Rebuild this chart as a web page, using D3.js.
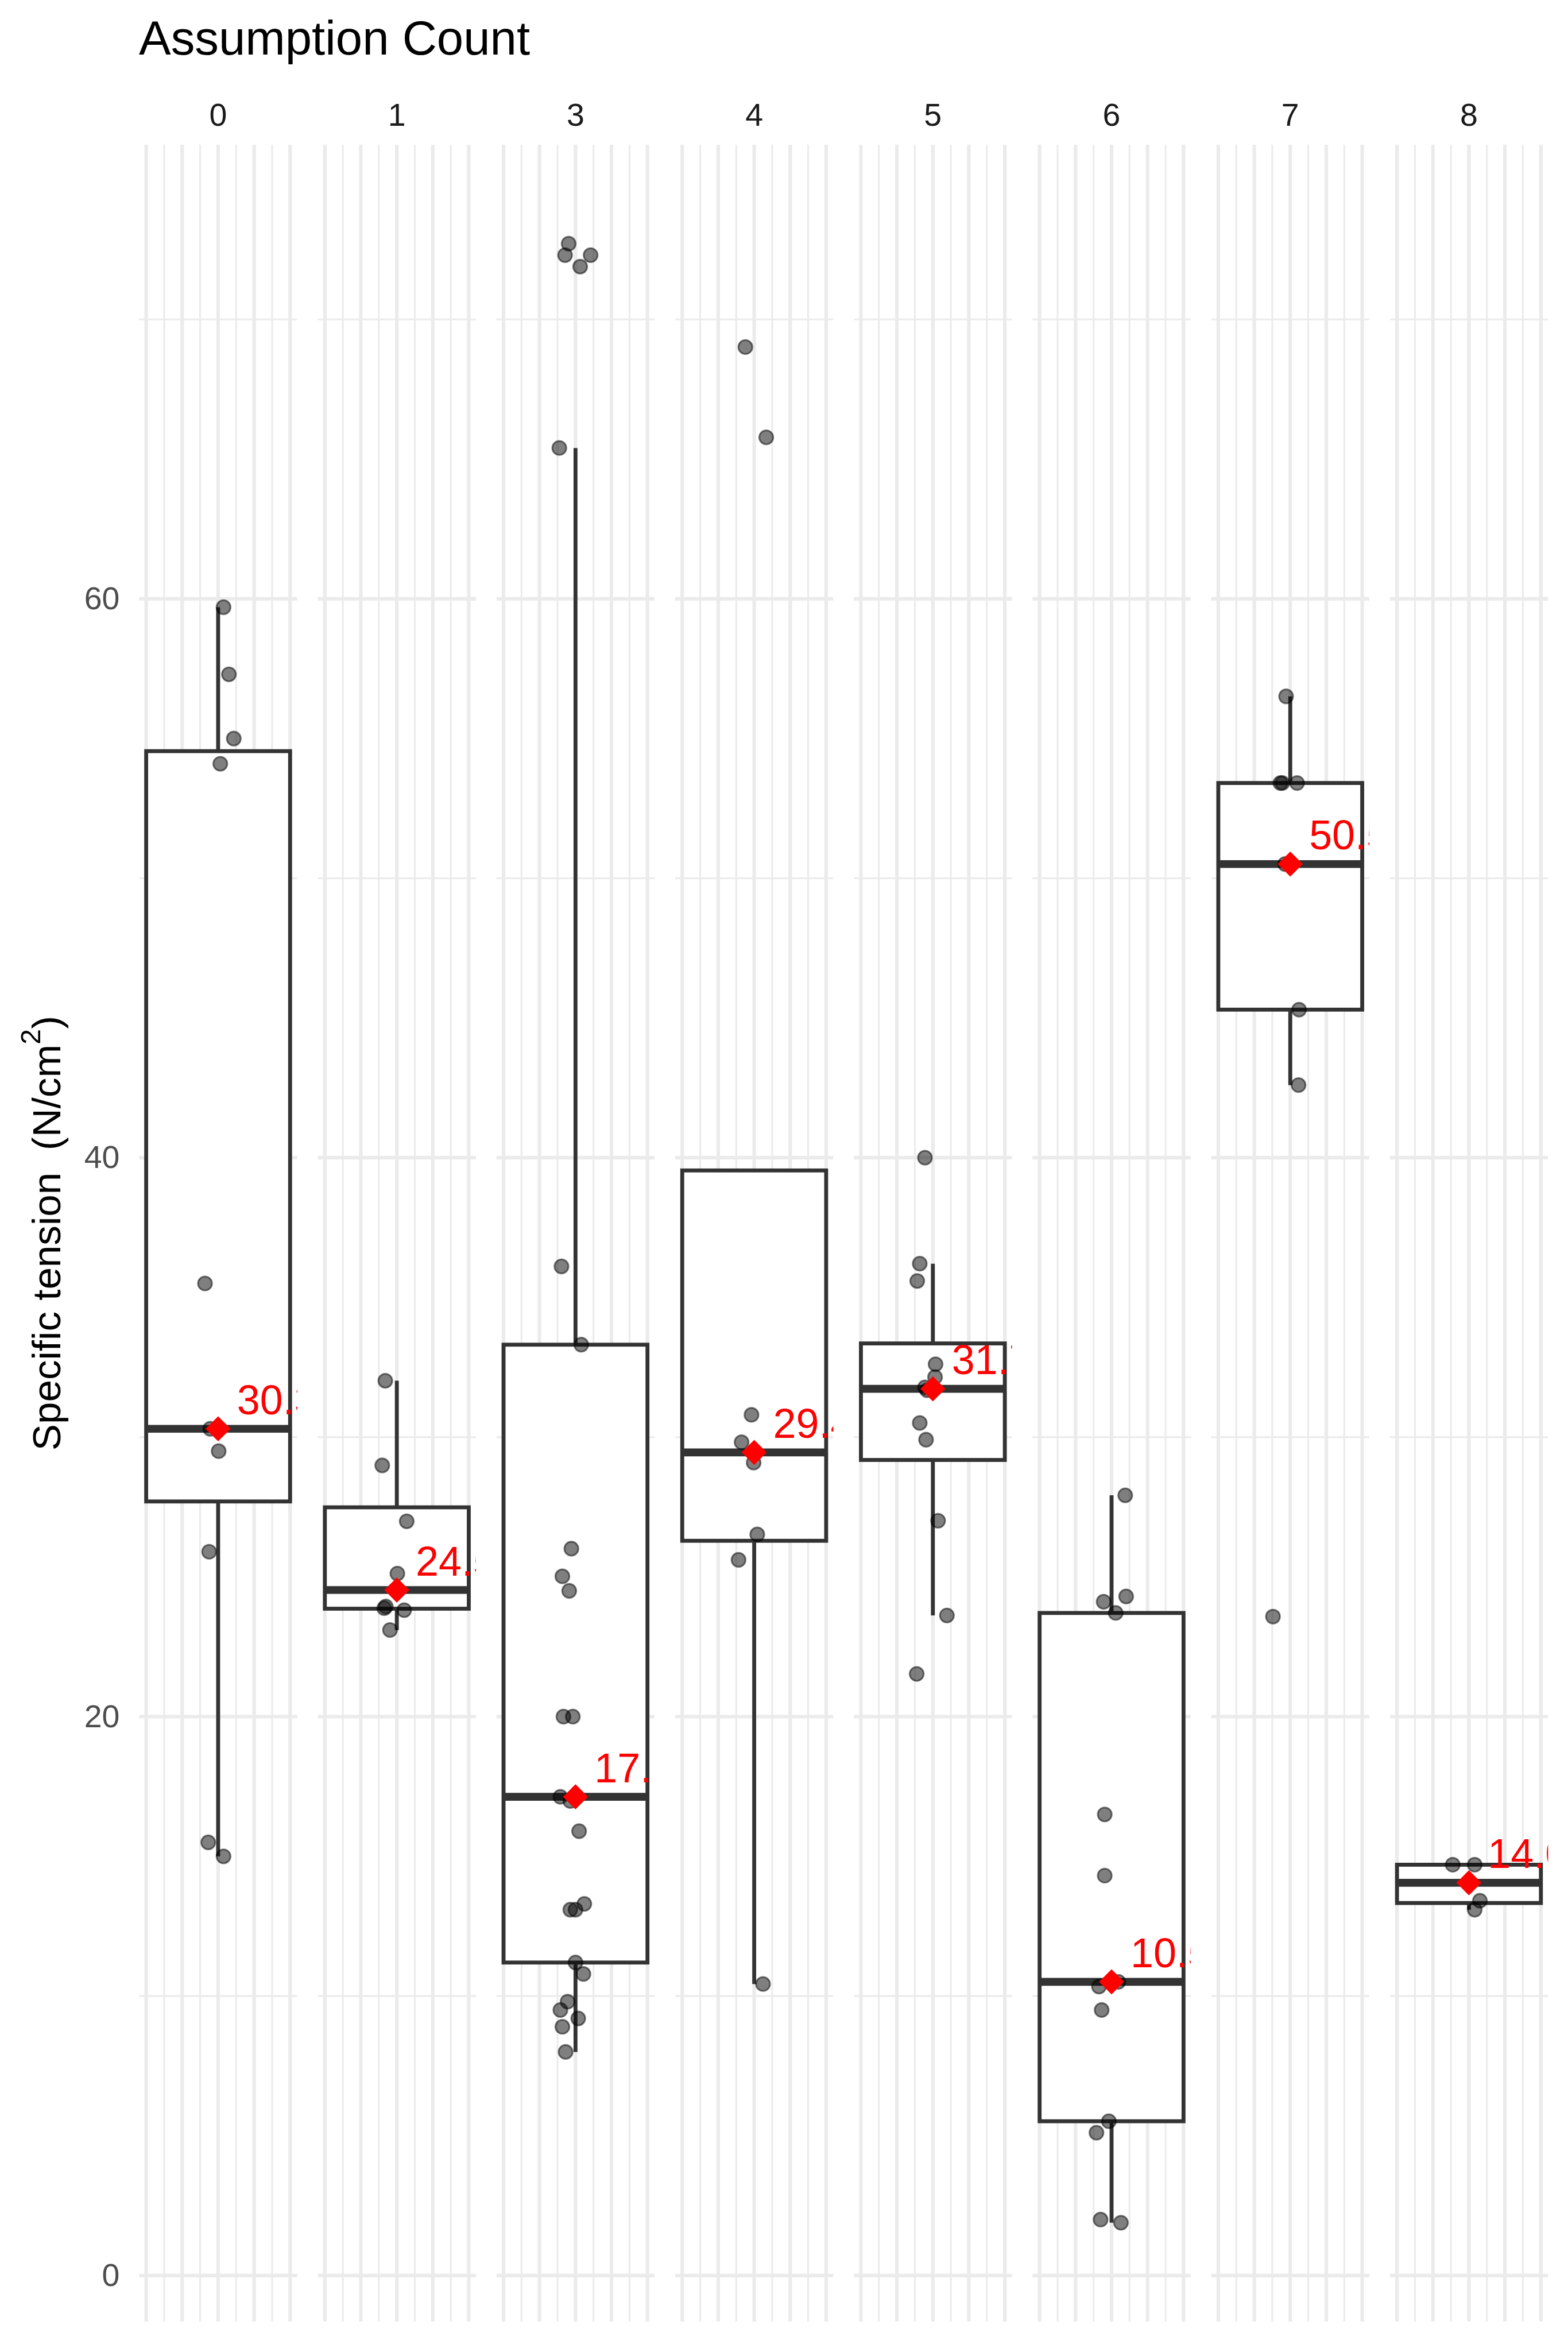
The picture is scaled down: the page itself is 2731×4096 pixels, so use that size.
<!DOCTYPE html>
<html>
<head>
<meta charset="utf-8">
<script src="https://cdn.jsdelivr.net/npm/d3@7"></script>
<style>
html, body { margin: 0; padding: 0; background: #ffffff; }
svg { display: block; }
text { font-family: "Liberation Sans", Arial, Helvetica, sans-serif; }
</style>
</head>
<body>
<script>
// ---------------- data ----------------
const categories = ["0", "1", "3", "4", "5", "6", "7", "8"];

const tension_0 = [59.7, 57.3, 55.0, 54.1, 35.5, 30.3, 30.3, 29.5, 25.9, 15.5, 15.0];
const jitter_0  = [0.03, 0.06, 0.087, 0.012, -0.073, -0.044, 0.0, 0.003, -0.05, -0.055, 0.03];

const tension_1 = [32.02, 28.99, 26.99, 25.12, 23.94, 23.88, 23.81, 23.10];
const jitter_1  = [-0.064, -0.081, 0.055, 0.003, -0.061, -0.07, 0.041, -0.038];

const tension_3 = [72.71, 72.30, 72.30, 71.89, 65.40, 36.11, 33.31, 26.01, 25.02, 24.50, 20.0, 20.0,
                   17.13, 16.98, 15.90, 13.30, 13.09, 13.09, 11.20, 10.79, 9.80, 9.50, 9.20, 8.90, 8.00];
const jitter_3  = [-0.038, -0.058, 0.084, 0.026, -0.09, -0.078, 0.032, -0.023, -0.073, -0.035, -0.067, -0.015,
                   -0.084, -0.029, 0.02, 0.049, -0.029, 0.0, 0.0, 0.044, -0.044, -0.084, 0.015, -0.073, -0.055];

const tension_4 = [69.01, 65.78, 30.80, 29.82, 29.09, 26.52, 25.61, 10.43];
const jitter_4  = [-0.049, 0.067, -0.015, -0.07, -0.003, 0.017, -0.087, 0.049];

const tension_5 = [40.0, 36.21, 35.59, 32.61, 32.15, 31.78, 31.68, 30.51, 29.91, 27.01, 23.62, 21.53];
const jitter_5  = [-0.044, -0.073, -0.087, 0.015, 0.012, -0.044, -0.032, -0.073, -0.038, 0.029, 0.078, -0.09];

const tension_6 = [27.92, 24.30, 24.11, 23.71, 16.50, 14.31, 10.51, 10.34, 9.50, 5.52, 5.11, 2.00, 1.89];
const jitter_6  = [0.076, 0.081, -0.044, 0.023, -0.038, -0.038, 0.038, -0.07, -0.055, -0.015, -0.084, -0.061, 0.052];

const tension_7 = [56.51, 53.41, 53.41, 53.41, 50.51, 50.51, 45.30, 42.60, 23.58];
const jitter_7  = [-0.023, -0.055, -0.044, 0.038, -0.029, 0.0, 0.049, 0.046, -0.096];

const tension_8 = [14.70, 14.70, 13.41, 13.09];
const jitter_8  = [-0.09, 0.032, 0.061, 0.032];

const yMajorTicks = [0, 20, 40, 60];
const yMinorTicks = [10, 30, 50, 70];
const xMajorTicks = [-0.4, -0.2, 0, 0.2, 0.4];
const xMinorTicks = [-0.3, -0.1, 0.1, 0.3];

const titleText = "Assumption Count";
const yTitleMain = "Specific tension  (N/cm";
const yTitleSup = "2";
const yTitleEnd = ")";

const tensionByGroup = [tension_0, tension_1, tension_3, tension_4, tension_5, tension_6, tension_7, tension_8];
const jitterByGroup  = [jitter_0, jitter_1, jitter_3, jitter_4, jitter_5, jitter_6, jitter_7, jitter_8];

// ---------------- layout ----------------
const S = 0.91;
const W = 2731, H = 4096;
const panelTop = 277 * S, panelBottom = 4443 * S;
const boxHalf = 0.4;

const groups = categories.map((c, i) => {
  const vals = tensionByGroup[i];
  const sorted = vals.slice().sort(d3.ascending);
  const q1 = d3.quantile(sorted, 0.25), med = d3.quantile(sorted, 0.5), q3 = d3.quantile(sorted, 0.75);
  const iqr = q3 - q1;
  const lo = d3.min(sorted.filter(v => v >= q1 - 1.5 * iqr));
  const hi = d3.max(sorted.filter(v => v <= q3 + 1.5 * iqr));
  return {
    cat: c, q1, med, q3, lo, hi,
    points: vals.map((v, j) => ({ v, dx: jitterByGroup[i][j] }))
  };
});

const allVals = tensionByGroup.flat();
const [vmin, vmax] = d3.extent(allVals);
const vpad = (vmax - vmin) * 0.05;

const y = d3.scaleLinear().domain([vmin - vpad, vmax + vpad]).range([panelBottom, panelTop]);

const panels = d3.scaleBand()
  .domain(categories)
  .range([266 * S, 2963 * S])
  .paddingInner(39 / 342)
  .paddingOuter(0);

const pw = panels.bandwidth();

const svg = d3.select("body").append("svg")
  .attr("width", W).attr("height", H)
  .attr("viewBox", `0 0 ${W} ${H}`);

svg.append("rect").attr("width", W).attr("height", H).attr("fill", "#ffffff");

const defs = svg.append("defs");

const gridCol = "#EBEBEB";
const lineCol = "#333333";

groups.forEach((g, i) => {
  const left = panels(g.cat);
  const x = d3.scaleLinear().domain([-0.44, 0.44]).range([left, left + pw]);

  const clipId = "clip" + i;
  defs.append("clipPath").attr("id", clipId)
    .append("rect").attr("x", left).attr("y", panelTop).attr("width", pw).attr("height", panelBottom - panelTop);

  const p = svg.append("g").attr("clip-path", `url(#${clipId})`);

  // grid: minor
  p.selectAll(".hmin").data(yMinorTicks).join("line")
    .attr("x1", left).attr("x2", left + pw)
    .attr("y1", d => y(d)).attr("y2", d => y(d))
    .attr("stroke", gridCol).attr("stroke-width", 3.4 * S);
  p.selectAll(".vmin").data(xMinorTicks).join("line")
    .attr("x1", d => x(d)).attr("x2", d => x(d))
    .attr("y1", panelTop).attr("y2", panelBottom)
    .attr("stroke", gridCol).attr("stroke-width", 3.4 * S);
  // grid: major
  p.selectAll(".hmaj").data(yMajorTicks).join("line")
    .attr("x1", left).attr("x2", left + pw)
    .attr("y1", d => y(d)).attr("y2", d => y(d))
    .attr("stroke", gridCol).attr("stroke-width", 6.8 * S);
  p.selectAll(".vmaj").data(xMajorTicks).join("line")
    .attr("x1", d => x(d)).attr("x2", d => x(d))
    .attr("y1", panelTop).attr("y2", panelBottom)
    .attr("stroke", gridCol).attr("stroke-width", 6.8 * S);

  // whiskers
  p.append("line")
    .attr("x1", x(0)).attr("x2", x(0))
    .attr("y1", y(g.q3)).attr("y2", y(g.hi))
    .attr("stroke", lineCol).attr("stroke-width", 7.5 * S);
  p.append("line")
    .attr("x1", x(0)).attr("x2", x(0))
    .attr("y1", y(g.q1)).attr("y2", y(g.lo))
    .attr("stroke", lineCol).attr("stroke-width", 7.5 * S);

  // box
  p.append("rect")
    .attr("x", x(-boxHalf)).attr("width", x(boxHalf) - x(-boxHalf))
    .attr("y", y(g.q3)).attr("height", y(g.q1) - y(g.q3))
    .attr("fill", "#ffffff").attr("stroke", lineCol).attr("stroke-width", 7.5 * S);
  // median
  p.append("line")
    .attr("x1", x(-boxHalf)).attr("x2", x(boxHalf))
    .attr("y1", y(g.med)).attr("y2", y(g.med))
    .attr("stroke", lineCol).attr("stroke-width", 15 * S);

  // jittered points
  p.selectAll(".pt").data(g.points).join("circle")
    .attr("cx", d => x(d.dx)).attr("cy", d => y(d.v))
    .attr("r", 13.35 * S)
    .attr("fill", "rgba(0,0,0,0.5)")
    .attr("stroke", "rgba(0,0,0,0.5)")
    .attr("stroke-width", 3.3 * S);

  // median diamond
  const cx = x(0), cy = y(g.med), h = 24 * S;
  p.append("path")
    .attr("d", `M${cx},${cy - h}L${cx + h},${cy}L${cx},${cy + h}L${cx - h},${cy}Z`)
    .attr("fill", "#FF0000");

  // median label
  p.append("text")
    .attr("x", x(0.105)).attr("y", cy - 28 * S)
    .attr("font-size", 79 * S)
    .attr("fill", "#FF0000")
    .attr("text-anchor", "start")
    .text(d3.format(".2~f")(g.med));

  // strip label
  svg.append("text")
    .attr("x", left + pw / 2).attr("y", 241 * S)
    .attr("text-anchor", "middle")
    .attr("font-size", 61 * S)
    .attr("fill", "#1A1A1A")
    .text(g.cat);
});

// y axis tick labels
const yAxis = d3.axisLeft(y).tickValues(yMajorTicks).tickSize(0).tickPadding((266 - 229) * S);
const ya = svg.append("g").attr("transform", `translate(${266 * S},0)`).call(yAxis);
ya.select(".domain").remove();
ya.selectAll("text")
  .attr("font-size", 61 * S)
  .attr("fill", "#4D4D4D")
  .attr("font-family", "'Liberation Sans', Arial, Helvetica, sans-serif");

// y axis title
const yt = svg.append("text")
  .attr("transform", `translate(${115 * S},${((panelTop + panelBottom) / 2)}) rotate(-90)`)
  .attr("text-anchor", "middle")
  .attr("font-size", 76 * S)
  .attr("fill", "#000000")
  .style("white-space", "pre");
yt.append("tspan").text(yTitleMain);
yt.append("tspan").attr("font-size", 76 * S * 0.7).attr("dy", -0.5 * 76 * S).text(yTitleSup);
yt.append("tspan").attr("dy", 0.5 * 76 * S).text(yTitleEnd);

// title
svg.append("text")
  .attr("x", 266 * S).attr("y", 104 * S)
  .attr("font-size", 91.6 * S)
  .attr("fill", "#000000")
  .text(titleText);
</script>
</body>
</html>
